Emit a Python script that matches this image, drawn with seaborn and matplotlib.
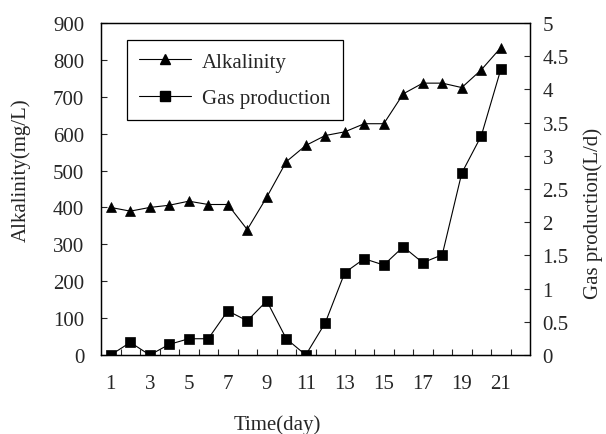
import matplotlib
matplotlib.use("Agg")
import matplotlib.pyplot as plt
from matplotlib.lines import Line2D
import numpy as np
import pandas as pd
import seaborn as sns

# Daily measurements of the digester
days = list(range(1, 22))
alkalinity = [400, 390, 400, 406, 417, 408, 408, 340, 428, 524, 568, 595,
              605, 627, 627, 708, 737, 737, 725, 773, 833]
gas_production = [0.0, 0.19, 0.0, 0.16, 0.245, 0.245, 0.665, 0.515, 0.815,
                  0.245, 0.0, 0.485, 1.24, 1.45, 1.355, 1.63, 1.39, 1.51,
                  2.74, 3.30, 4.30]

x_tick_labels = [str(d) for d in range(1, 22, 2)]
left_ticks = list(range(0, 1000, 100))
right_ticks = [0, 0.5, 1, 1.5, 2, 2.5, 3, 3.5, 4, 4.5, 5]
right_tick_labels = ["0", "0.5", "1", "1.5", "2", "2.5", "3", "3.5", "4", "4.5", "5"]

df = pd.DataFrame({"day": days, "alk": alkalinity, "gas": gas_production})

sns.set_style("ticks")
plt.rcParams["font.family"] = ["Liberation Serif", "DejaVu Serif"]
FS = 15
plt.rcParams["font.size"] = FS

fig = plt.figure(figsize=(6.06, 4.35), dpi=100)
ax = fig.add_axes([0.1667, 0.1816, 0.7079, 0.7632])
ax2 = ax.twinx()

sns.lineplot(data=df, x="day", y="alk", ax=ax, color="black", linewidth=0.8,
             marker="^", markersize=7.5, markeredgecolor="black", markeredgewidth=0.5)
sns.lineplot(data=df, x="day", y="gas", ax=ax2, color="black", linewidth=0.8,
             marker="s", markersize=6.5, markeredgecolor="black", markeredgewidth=0.5)

ax.set_xlim(0.5, 22.5)
ax.set_ylim(0, 900)
ax2.set_ylim(0, 5)

# category-style x axis: labels on odd days, tick marks between days
ax.set_xticks(list(range(1, 22, 2)))
ax.set_xticklabels(x_tick_labels)
ax.set_xticks(np.arange(1.5, 22, 1.0), minor=True)
ax.tick_params(axis="x", which="major", length=0, pad=14, labelsize=FS)
ax.tick_params(axis="x", which="minor", direction="in", length=4.5, width=0.8,
               bottom=True, top=False)

ax.set_yticks(left_ticks)
ax.tick_params(axis="y", which="major", direction="in", length=4.5, width=0.8,
               pad=12, labelsize=FS)
ax2.set_yticks(right_ticks)
ax2.set_yticklabels(right_tick_labels)
ax2.tick_params(axis="y", which="major", direction="in", length=4.5, width=0.8,
                pad=9, labelsize=FS)

for a in (ax, ax2):
    for s in a.spines.values():
        s.set_visible(True)
        s.set_color("black")
        s.set_linewidth(0.9)

ax.set_xlabel("Time(day)", fontsize=FS)
ax.set_ylabel("Alkalinity(mg/L)", fontsize=FS)
ax2.set_ylabel("Gas production(L/d)", fontsize=FS)
ax.xaxis.set_label_coords(0.41, -0.18)
ax.yaxis.set_label_coords(-0.163, 0.56)
ax2.yaxis.set_label_coords(1.125, 0.43)

handles = [
    Line2D([], [], color="black", linewidth=0.8, marker="^", markersize=7.5),
    Line2D([], [], color="black", linewidth=0.8, marker="s", markersize=6.5),
]
leg = ax.legend(handles, ["Alkalinity", "Gas production"], loc="upper left",
                bbox_to_anchor=(0.06, 0.95), borderaxespad=0, frameon=True,
                fancybox=False, edgecolor="black", handlelength=2.5,
                handletextpad=0.5, labelspacing=0.8, borderpad=0.6,
                fontsize=FS)
leg.get_frame().set_linewidth(0.9)
leg.get_frame().set_alpha(1)

fig.savefig("out.png", dpi=100)
